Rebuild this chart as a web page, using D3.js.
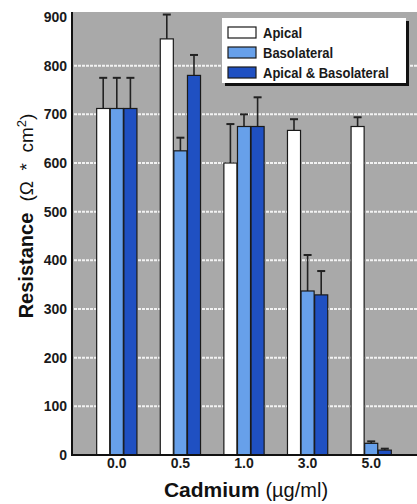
<!DOCTYPE html>
<html>
<head>
<meta charset="utf-8">
<script src="https://cdn.jsdelivr.net/npm/d3@7"></script>
<style>
  body { margin: 0; background: #fff; }
  svg text { font-family: "Liberation Sans", Arial, sans-serif; }
</style>
</head>
<body>
<div id="chart"></div>
<script>
const categories = ['0.0', '0.5', '1.0', '3.0', '5.0']
const seriesNames = ['Apical', 'Basolateral', 'Apical & Basolateral']
const apical = [712, 855, 600, 667, 675]
const apicalErr = [775, 905, 680, 690, 694]
const basolateral = [712, 625, 675, 337, 24]
const basolateralErr = [775, 652, 700, 411, 28]
const both = [712, 780, 675, 329, 10]
const bothErr = [775, 822, 735, 378, 13]
const yTicks = [0, 100, 200, 300, 400, 500, 600, 700, 800, 900]
const colors = ['#ffffff', '#67a0ea', '#1f50c2']

const width = 417
const height = 504

const svg = d3.select('#chart')
  .append('svg')
  .attr('width', width)
  .attr('height', height)

const x0 = d3.scaleBand().domain(categories).range([85, 403])
  .paddingInner(0.35).paddingOuter(0.175)
const x1 = d3.scaleBand().domain(seriesNames).range([0, x0.bandwidth()]).padding(0.04)
const y = d3.scaleLinear().domain([0, 900]).range([455, 17])

const values = [apical, basolateral, both]
const errs = [apicalErr, basolateralErr, bothErr]

// grey plot background
svg.append('rect')
  .attr('x', 72).attr('y', 12)
  .attr('width', width - 72).attr('height', y(0) - 12)
  .attr('fill', '#a9a9a9')

// white gridlines
svg.append('g').selectAll('line')
  .data(yTicks.filter(d => d > 0 && d < 900))
  .join('line')
  .attr('x1', 74).attr('x2', width)
  .attr('y1', d => y(d)).attr('y2', d => y(d))
  .attr('stroke', '#f2f2f2').attr('stroke-width', 2)
  .attr('stroke-dasharray', '3 1')

// bars
const groups = svg.append('g').selectAll('g')
  .data(categories)
  .join('g')
  .attr('transform', d => `translate(${x0(d)},0)`)

groups.each(function (cat, ci) {
  const g = d3.select(this)
  seriesNames.forEach((s, si) => {
    const v = values[si][ci]
    const e = errs[si][ci]
    const cx = x1(s) + x1.bandwidth() / 2
    g.append('line')
      .attr('x1', cx).attr('x2', cx)
      .attr('y1', y(v)).attr('y2', y(e))
      .attr('stroke', '#222').attr('stroke-width', 1.6)
    g.append('line')
      .attr('x1', cx - 4).attr('x2', cx + 4)
      .attr('y1', y(e)).attr('y2', y(e))
      .attr('stroke', '#222').attr('stroke-width', 2)
    g.append('rect')
      .attr('x', x1(s)).attr('y', y(v))
      .attr('width', x1.bandwidth()).attr('height', y(0) - y(v))
      .attr('fill', colors[si])
      .attr('stroke', '#1a1a1a').attr('stroke-width', 1.2)
  })
})

// axes lines
svg.append('line')
  .attr('x1', 72).attr('x2', 72).attr('y1', 12).attr('y2', y(0) + 1)
  .attr('stroke', '#111').attr('stroke-width', 2)
svg.append('line')
  .attr('x1', 71).attr('x2', width).attr('y1', y(0)).attr('y2', y(0))
  .attr('stroke', '#111').attr('stroke-width', 2)

// y tick labels
svg.append('g').selectAll('text')
  .data(yTicks)
  .join('text')
  .attr('x', 67).attr('y', d => y(d) + 5)
  .attr('text-anchor', 'end')
  .attr('font-size', 14).attr('font-weight', 'bold')
  .attr('fill', '#1a1a1a')
  .text(d => d)

// x tick labels
svg.append('g').selectAll('text')
  .data(categories)
  .join('text')
  .attr('x', d => x0(d) + x0.bandwidth() / 2).attr('y', 468)
  .attr('text-anchor', 'middle')
  .attr('font-size', 14).attr('font-weight', 'bold')
  .attr('fill', '#1a1a1a')
  .text(d => d)

// x title
const xt = svg.append('text')
  .attr('x', 246).attr('y', 497)
  .attr('text-anchor', 'middle')
  .attr('fill', '#111')
xt.append('tspan').attr('font-size', 21).attr('font-weight', 'bold').text('Cadmium ')
xt.append('tspan').attr('font-size', 20).text('(\u00b5g/ml)')

// y title
const yt = svg.append('text')
  .attr('transform', 'translate(33,216) rotate(-90)')
  .attr('text-anchor', 'middle')
  .attr('fill', '#111')
  .style('white-space', 'pre')
yt.append('tspan').attr('font-size', 20).attr('font-weight', 'bold').text('Resistance  ')
yt.append('tspan').attr('font-size', 19).text('(\u03a9  *  cm')
yt.append('tspan').attr('font-size', 13).attr('dy', -7).text('2')
yt.append('tspan').attr('font-size', 19).attr('dy', 7).text(')')

// legend
const lg = svg.append('g').attr('transform', 'translate(222,18)')
lg.append('rect')
  .attr('x', 3).attr('y', 3).attr('width', 184).attr('height', 65)
  .attr('fill', '#111')
lg.append('rect')
  .attr('x', 0).attr('y', 0).attr('width', 184).attr('height', 65)
  .attr('fill', '#fff')
const items = lg.selectAll('g.item')
  .data(seriesNames)
  .join('g')
  .attr('class', 'item')
  .attr('transform', (d, i) => `translate(6,${9 + i * 20})`)
items.append('rect')
  .attr('width', 28).attr('height', 11)
  .attr('fill', (d, i) => colors[i])
  .attr('stroke', '#1a1a1a').attr('stroke-width', 1.2)
items.append('text')
  .attr('transform', 'translate(35,11) scale(0.84,1)')
  .attr('font-size', 15.5).attr('font-weight', 'bold')
  .attr('fill', '#1a1a1a')
  .text(d => d)
</script>
</body>
</html>
